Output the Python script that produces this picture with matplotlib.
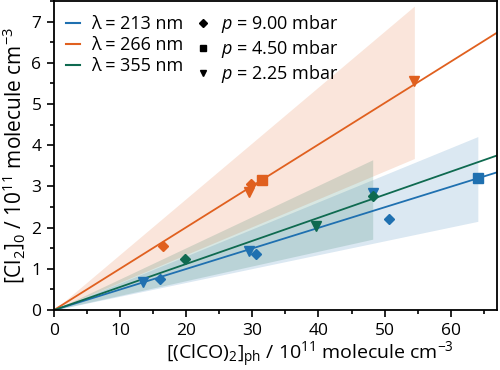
import matplotlib
matplotlib.use("Agg")
import matplotlib.pyplot as plt
from matplotlib.lines import Line2D
import numpy as np

plt.rcParams['font.family'] = ['Open Sans', 'DejaVu Sans']
plt.rcParams['mathtext.fontset'] = 'custom'
plt.rcParams['mathtext.rm'] = 'Open Sans'
plt.rcParams['mathtext.it'] = 'Open Sans:italic'

wavelengths = ["213", "266", "355"]
colors = ["#1f70b0", "#e0601f", "#0f6a50"]
slopes = [0.0499, 0.1005, 0.0560]
band_lo = [0.0336, 0.0675, 0.0357]
band_hi = [0.0657, 0.1354, 0.0757]
band_xmax = [64.1, 54.5, 48.2]

pressures = ["9.00", "4.50", "2.25"]
markers = ["D", "s", "v"]

# data points: (x, y) per wavelength per pressure
x_213_p9 = [16.1, 30.6, 50.6]; y_213_p9 = [0.75, 1.36, 2.22]
x_213_p45 = [64.2]; y_213_p45 = [3.20]
x_213_p225 = [13.5, 29.5, 48.2]; y_213_p225 = [0.68, 1.43, 2.85]
x_266_p9 = [16.5, 29.8]; y_266_p9 = [1.55, 3.07]
x_266_p45 = [31.5]; y_266_p45 = [3.15]
x_266_p225 = [29.5, 54.5]; y_266_p225 = [2.86, 5.55]
x_355_p9 = [19.8, 48.2]; y_355_p9 = [1.23, 2.76]
x_355_p45 = []; y_355_p45 = []
x_355_p225 = [39.7]; y_355_p225 = [2.03]

pts = [
    [(x_213_p9, y_213_p9), (x_213_p45, y_213_p45), (x_213_p225, y_213_p225)],
    [(x_266_p9, y_266_p9), (x_266_p45, y_266_p45), (x_266_p225, y_266_p225)],
    [(x_355_p9, y_355_p9), (x_355_p45, y_355_p45), (x_355_p225, y_355_p225)],
]

fig = plt.figure(figsize=(5, 3.7), dpi=100)
ax = fig.add_axes([0.108, 0.162, 0.886, 0.835])

xlim = (0, 67)
for i in range(3):
    xb = np.array([0, band_xmax[i]])
    ax.fill_between(xb, band_lo[i] * xb, band_hi[i] * xb, color=colors[i],
                    alpha=0.16, linewidth=0, zorder=1)
for i in range(3):
    xl = np.array(xlim)
    ax.plot(xl, slopes[i] * xl, color=colors[i], lw=1.3, zorder=2)
for i in range(3):
    for j in range(3):
        xs, ys = pts[i][j]
        if xs:
            ms = 5.5 if markers[j] == "D" else 6.5
            ax.plot(xs, ys, linestyle="none", marker=markers[j], color=colors[i],
                    ms=ms, zorder=3)

ax.set_xlim(*xlim)
ax.set_ylim(0, 7.5)
ax.set_xticks(np.arange(0, 61, 10))
ax.set_xticks(np.arange(0, 66, 5), minor=True)
ax.set_yticks(np.arange(0, 8, 1))
ax.set_yticks(np.arange(0, 7.6, 0.5), minor=True)
ax.tick_params(which="major", direction="out", length=5, width=1.2, labelsize=12.5, pad=4)
ax.tick_params(which="minor", direction="out", length=3, width=1.2)
for s in ax.spines.values():
    s.set_linewidth(1.3)

ax.set_xlabel(r"[(ClCO)$_2$]$_{\rm ph}$ / 10$^{11}$ molecule cm$^{-3}$", fontsize=14)
ax.xaxis.set_label_coords(0.578, -0.098)
ax.set_ylabel(r"[Cl$_2$]$_0$ / 10$^{11}$ molecule cm$^{-3}$", fontsize=15, labelpad=3)

handles = [Line2D([], [], color=c, lw=1.5) for c in colors]
labels = [f"λ = {w} nm" for w in wavelengths]
handles += [Line2D([], [], color="black", marker=m, linestyle="none",
                   ms=(4 if m == "D" else 5)) for m in markers]
labels += [f"$p$ = {p} mbar" for p in pressures]
ax.legend(handles, labels, ncol=2, loc="upper left", frameon=False, fontsize=13,
          handlelength=0.8, handletextpad=0.6, columnspacing=0.7, labelspacing=0.18,
          bbox_to_anchor=(0.0, 1.0), borderaxespad=0.25)

fig.savefig("out.png", dpi=100)
